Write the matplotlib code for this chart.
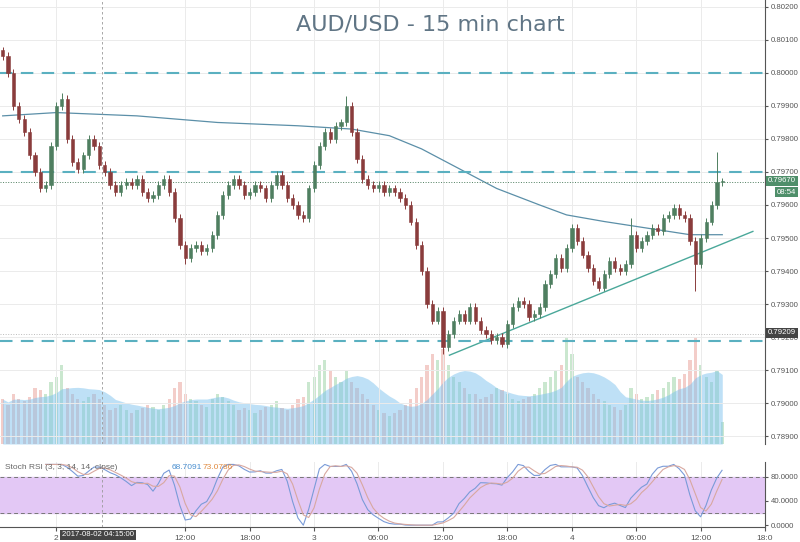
import numpy as np
import pandas as pd
import matplotlib
matplotlib.use("Agg")
import matplotlib.pyplot as plt
from matplotlib.patches import Rectangle

plt.rcParams['font.family'] = ['Liberation Sans', 'DejaVu Sans']

# 30-min bars starting 2017-08-01 19:00
closes = [.8005,.8000,.7990,.7986,.7982,.7975,.7970,.7965,.7966,.7978,
          .7990,.7992,.7980,.7973,.7971,.7975,.7980,.7978,.7972,.7970,
          .7966,.7964,.7966,.7967,.7966,.7968,.7964,.7962,.7963,.7966,
          .7968,.7964,.7956,.7948,.7944,.7947,.7948,.7946,.7947,.7951,
          .7957,.7963,.7966,.7968,.7966,.7963,.7964,.7966,.7965,.7962,
          .7966,.7969,.7966,.7962,.7960,.7957,.7956,.7965,.7972,.7978,
          .7982,.7980,.7984,.7985,.7990,.7982,.7974,.7968,.7966,.7965,
          .7966,.7964,.7965,.7964,.7962,.7960,.7955,.7948,.7940,.7930,
          .7925,.7928,.7917,.7921,.7925,.7927,.7925,.7929,.7925,.7922,
          .7921,.7919,.7920,.7918,.7924,.7929,.7931,.7930,.7926,.7927,
          .7929,.7936,.7939,.7944,.7941,.7947,.7953,.7949,.7945,.7941,
          .7937,.7935,.7939,.7943,.7941,.7940,.7942,.7951,.7947,.7949,
          .7951,.7953,.7952,.7956,.7957,.7959,.7957,.7956,.7949,.7942,
          .7950,.7955,.7960,.7967,.7967]
opens = [.8007] + closes[:-1]
high_spikes = {0: .8008, 11: .7994, 64: .7993, 133: .7976, 117: .7956}
low_spikes = {82: .7915, 129: .7934, 34: .7942, 93: .7917}
volumes = [40,35,45,40,38,42,50,48,45,55,
           60,70,50,45,40,38,42,45,40,35,
           30,32,35,30,28,30,32,35,33,30,
           35,40,50,55,45,40,38,35,33,40,
           45,42,38,35,30,32,30,28,30,33,
           35,38,32,30,35,40,42,55,60,70,
           75,65,60,55,65,55,50,45,40,35,
           30,28,25,28,30,35,40,50,60,70,
           80,75,85,70,60,55,50,45,45,40,
           42,45,50,48,45,40,38,40,42,45,
           50,55,60,65,70,95,80,60,55,50,
           45,40,38,35,33,30,35,50,45,40,
           42,45,48,50,55,60,58,62,75,95,
           70,60,55,65,20]
ma_idx = [0, 10, 25, 40, 55, 65, 72, 78, 85, 92, 100, 105, 112, 120, 128, 134]
ma_val = [.7987, .7988, .7987, .7985, .7984, .7983, .7981, .7977, .7971, .7965,
          .7960, .7957, .7955, .7953, .7951, .7951]
trend_idx = [83.2, 139.7]
trend_val = [.79145, .7952]
h_levels = [.8000, .7970, .79188]
price_ticks = [.8020, .8010, .8000, .7990, .7980, .7970, .7960, .7950, .7940,
               .7930, .7920, .7910, .7900, .7890]
time_ticks = [10, 34, 46, 58, 70, 82, 94, 106, 118, 130, 142]
time_labels = ["2", "12:00", "18:00", "3", "06:00", "12:00", "18:00", "4", "06:00", "12:00", "18:0"]

W, H = 800, 542
fig = plt.figure(figsize=(8, 5.42), dpi=100)
pw = 765 / W
ax = fig.add_axes([0, 1 - 444 / H, pw, 444 / H])
axs = fig.add_axes([0, 15 / H, pw, 65 / H])
n = len(closes)
xmin, xmax = -0.5, 765 / 5.37 - 0.5
FS = 5.6

# volume
axv = ax.twinx()
vol = np.array(volumes, float)
volma = pd.Series(vol).rolling(10, min_periods=1).mean()
vcol = ["#b9dfc0" if c >= o else "#f0bdb8" for o, c in zip(opens, closes)]
axv.bar(range(n), vol, width=0.6, color=vcol, alpha=0.75, zorder=1)
axv.fill_between(range(n), 0, volma, color="#7ec3ee", alpha=0.5, lw=0, zorder=2)
axv.set_ylim(0, max(volumes) / 0.24)
axv.set_axis_off()
ax.set_zorder(axv.get_zorder() + 1)
ax.patch.set_visible(False)

# grid
for p in price_ticks:
    ax.axhline(p, color="#ebebeb", lw=0.7, zorder=0)
for t in time_ticks:
    ax.axvline(t, color="#ebebeb", lw=0.7, zorder=0)
    axs.axvline(t, color="#ebebeb", lw=0.7, zorder=0)

# candles
for i, (o, c) in enumerate(zip(opens, closes)):
    hi = high_spikes.get(i, max(o, c) + 0.00012)
    lo = low_spikes.get(i, min(o, c) - 0.00012)
    col = "#4f7f60" if c >= o else "#8a3c3c"
    ax.vlines(i, lo, hi, color=col, lw=0.7, zorder=4)
    ax.add_patch(Rectangle((i - 0.3, min(o, c)), 0.6, max(abs(c - o), 0.00003),
                           facecolor=col, edgecolor=col, lw=0.4, zorder=5))

ax.plot(ma_idx, ma_val, color="#5b8fa8", lw=0.9, zorder=3)
ax.plot(trend_idx, trend_val, color="#4aa89a", lw=1.0, zorder=3)
for lv in h_levels:
    ax.axhline(lv, color="#5ab0c0", lw=1.5, ls=(0, (6, 4)), zorder=3)
ax.axhline(.79209, color="#bbbbbb", lw=0.7, ls=":", zorder=3)
ax.axhline(.79670, color="#4f7f60", lw=0.7, ls=":", zorder=3)
ax.axvline(18.5, color="#999999", lw=0.6, ls=(0, (3, 3)), zorder=3)
axs.axvline(18.5, color="#999999", lw=0.6, ls=(0, (3, 3)), zorder=3)

ax.set_xlim(xmin, xmax)
ax.set_ylim(0.78876, 0.80221)
ax.set_xticks([])
ax.yaxis.tick_right()
ax.set_yticks(price_ticks)
ax.set_yticklabels([f"{p:.5f}" for p in price_ticks], fontsize=FS, color="#555555")
ax.tick_params(axis="y", length=2.5, pad=1.5, colors="#555555")
for s in ["top", "left", "bottom"]:
    ax.spines[s].set_visible(False)
ax.spines["right"].set_color("#555555")
ax.text(430 / 765, 1 - 25 / 444, "AUD/USD - 15 min chart", transform=ax.transAxes,
        ha="center", va="center", fontsize=16, color="#607585", family="DejaVu Sans")

# price labels on axis
fig.text(768 / W, 1 - 181 / H, "0.79670", fontsize=FS, color="white", va="center",
         bbox=dict(boxstyle="square,pad=0.2", fc="#4f8f6a", ec="none"))
fig.text(777 / W, 1 - 192 / H, "08:54", fontsize=FS, color="white", va="center",
         bbox=dict(boxstyle="square,pad=0.2", fc="#4f8f6a", ec="none"))
fig.text(768 / W, 1 - 333 / H, "0.79209", fontsize=FS, color="white", va="center",
         bbox=dict(boxstyle="square,pad=0.2", fc="#444444", ec="none"))

# stoch RSI
cs = pd.Series(closes)
d = cs.diff()
up = d.clip(lower=0).ewm(alpha=1 / 14, adjust=False).mean()
dn = (-d.clip(upper=0)).ewm(alpha=1 / 14, adjust=False).mean()
rsi = 100 - 100 / (1 + up / dn.replace(0, 1e-9))
lo14 = rsi.rolling(14, min_periods=1).min()
hi14 = rsi.rolling(14, min_periods=1).max()
st = 100 * (rsi - lo14) / (hi14 - lo14).replace(0, np.nan)
k = st.rolling(3, min_periods=1).mean()
dd = k.rolling(3, min_periods=1).mean()
axs.axhspan(20, 80, color="#e3c8f5", zorder=0)
axs.axhline(80, color="#777777", lw=0.7, ls=(0, (4, 3)))
axs.axhline(20, color="#777777", lw=0.7, ls=(0, (4, 3)))
axs.plot(range(n), k, color="#7a9bd8", lw=0.8)
axs.plot(range(n), dd, color="#d8a8a0", lw=0.8)
axs.set_xlim(xmin, xmax)
axs.set_ylim(-3, 104)
axs.yaxis.tick_right()
axs.set_yticks([0, 40, 80])
axs.set_yticklabels(["0.0000", "40.0000", "80.0000"], fontsize=FS, color="#555555")
axs.tick_params(axis="y", length=2.5, pad=1.5, colors="#555555")
axs.set_xticks(time_ticks)
axs.set_xticklabels(time_labels, fontsize=6, color="#555555")
axs.tick_params(axis="x", length=3, pad=3, colors="#555555")
for s in ["top", "left"]:
    axs.spines[s].set_visible(False)
axs.spines["right"].set_color("#555555")
axs.spines["bottom"].set_color("#555555")
axs.text(0.006, 0.92, "Stoch RSI (3, 3, 14, 14, close)", transform=axs.transAxes,
         fontsize=6, color="#666666", va="center")
axs.text(0.225, 0.92, "68.7091", transform=axs.transAxes, fontsize=6, color="#4a8fd0", va="center")
axs.text(0.265, 0.92, "73.0786", transform=axs.transAxes, fontsize=6, color="#e08a40", va="center")
fig.text(98 / W, 1 - 535 / H, "2017-08-02 04:15:00", fontsize=FS, color="white",
         ha="center", va="center", bbox=dict(boxstyle="square,pad=0.25", fc="#444444", ec="none"))
fig.savefig("out.png", dpi=100)
